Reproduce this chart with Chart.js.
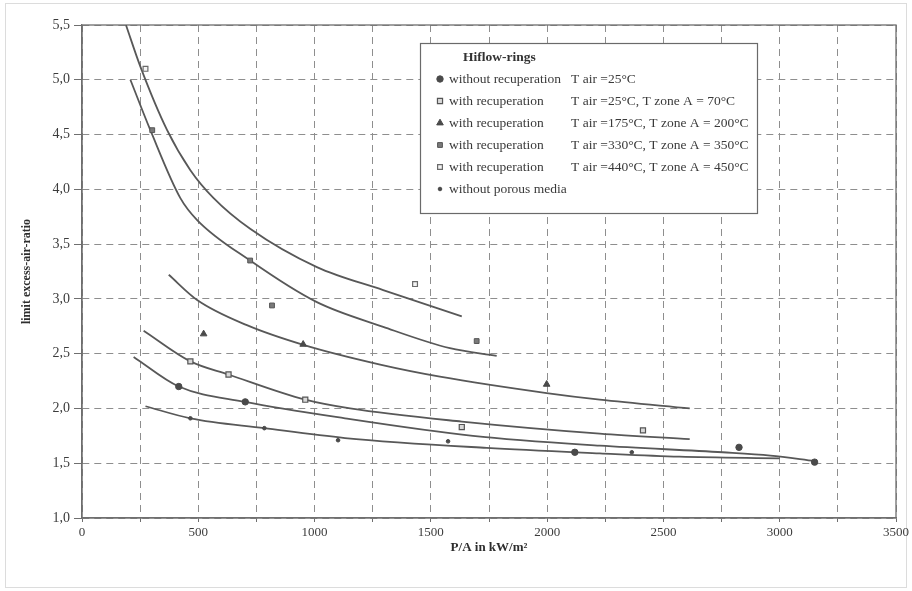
<!DOCTYPE html>
<html>
<head>
<meta charset="utf-8">
<script src="https://cdn.jsdelivr.net/npm/chart.js@4/dist/chart.umd.min.js"></script>
<style>
html,body{margin:0;padding:0;background:#ffffff;}
#wrap{position:relative;width:912px;height:591px;}
canvas{display:block;}
</style>
</head>
<body>
<div id="wrap"><canvas id="c" width="912" height="591"></canvas></div>
<script>
// ---------- data ----------
const legendTitle = 'Hiflow-rings';
const seriesLabels = [
  'without recuperation   T air =25°C',
  'with recuperation   T air =25°C, T zone A = 70°C',
  'with recuperation   T air =175°C, T zone A = 200°C',
  'with recuperation   T air =330°C, T zone A = 350°C',
  'with recuperation   T air =440°C, T zone A = 450°C',
  'without porous media'
];
const xTickLabels = ['0','500','1000','1500','2000','2500','3000','3500'];
const yTickLabels = ['1,0','1,5','2,0','2,5','3,0','3,5','4,0','4,5','5,0','5,5'];

// measured points (markers)
const noRecupX   = [416, 702, 2119, 2825, 3150];
const noRecupY   = [2.20, 2.06, 1.60, 1.645, 1.51];
const recup25X   = [466, 630, 960, 1633, 2412];
const recup25Y   = [2.43, 2.31, 2.08, 1.83, 1.80];
const recup175X  = [523, 951, 1998];
const recup175Y  = [2.68, 2.585, 2.22];
const recup330X  = [302, 723, 817, 1697];
const recup330Y  = [4.54, 3.35, 2.94, 2.615];
const recup440X  = [273, 1432];
const recup440Y  = [5.10, 3.135];
const noPorousX  = [466, 784, 1101, 1574, 2364];
const noPorousY  = [1.91, 1.82, 1.71, 1.70, 1.60];

// fitted curves (traced)
const fitNoRecupX  = [222, 416, 702, 1131, 1681, 2226, 2755, 2960, 3150];
const fitNoRecupY  = [2.47, 2.20, 2.06, 1.91, 1.75, 1.66, 1.60, 1.57, 1.52];
const fitRecup25X  = [265, 466, 630, 960, 1153, 1633, 2226, 2613];
const fitRecup25Y  = [2.71, 2.43, 2.31, 2.08, 2.00, 1.88, 1.77, 1.72];
const fitRecup175X = [373, 495, 709, 952, 1282, 1539, 1998, 2226, 2613];
const fitRecup175Y = [3.22, 2.99, 2.76, 2.58, 2.40, 2.29, 2.14, 2.08, 2.00];
const fitRecup330X = [208, 294, 423, 495, 723, 1010, 1295, 1582, 1783];
const fitRecup330Y = [5.00, 4.54, 3.92, 3.72, 3.35, 2.97, 2.745, 2.55, 2.48];
const fitRecup440X = [189, 251, 366, 466, 566, 723, 1010, 1295, 1633];
const fitRecup440Y = [5.50, 5.12, 4.54, 4.175, 3.92, 3.64, 3.29, 3.08, 2.84];
const fitNoPorousX = [273, 466, 784, 1131, 1740, 2226, 2569, 3000];
const fitNoPorousY = [2.02, 1.91, 1.82, 1.73, 1.64, 1.59, 1.56, 1.545];

// ---------- build ----------
const pts = (xs, ys) => xs.map((x, i) => ({x: x, y: ys[i]}));
const markerStyles = [
  {pointStyle:'circle',   radius:3.2, bg:'#4a4a4a', bc:'#4a4a4a', bw:1},
  {pointStyle:'rect',     radius:3.6, bg:'#d9d9d9', bc:'#555555', bw:1.2},
  {pointStyle:'triangle', radius:3.8, bg:'#4a4a4a', bc:'#4a4a4a', bw:1},
  {pointStyle:'rect',     radius:3.4, bg:'#7a7a7a', bc:'#555555', bw:1},
  {pointStyle:'rect',     radius:3.4, bg:'#f4f4f4', bc:'#6a6a6a', bw:1.2},
  {pointStyle:'circle',   radius:1.8, bg:'#4a4a4a', bc:'#4a4a4a', bw:1}
];
const markerSets = [
  pts(noRecupX, noRecupY), pts(recup25X, recup25Y), pts(recup175X, recup175Y),
  pts(recup330X, recup330Y), pts(recup440X, recup440Y), pts(noPorousX, noPorousY)
];
const curveSets = [
  pts(fitNoRecupX, fitNoRecupY), pts(fitRecup25X, fitRecup25Y), pts(fitRecup175X, fitRecup175Y),
  pts(fitRecup330X, fitRecup330Y), pts(fitRecup440X, fitRecup440Y), pts(fitNoPorousX, fitNoPorousY)
];

const datasets = [];
markerSets.forEach((d, i) => {
  const m = markerStyles[i];
  datasets.push({
    label: seriesLabels[i], data: d, showLine: false,
    pointStyle: m.pointStyle, pointRadius: m.radius, pointBackgroundColor: m.bg,
    pointBorderColor: m.bc, pointBorderWidth: m.bw, pointHoverRadius: m.radius
  });
});
curveSets.forEach((d, i) => {
  datasets.push({
    label: '', data: d, showLine: true, pointRadius: 0, pointHoverRadius: 0,
    borderColor: '#585858', borderWidth: 1.8, cubicInterpolationMode: 'monotone', fill: false
  });
});

const SERIF = '"Liberation Serif", "DejaVu Serif", serif';

const framePlugin = {
  id: 'frame',
  beforeDraw(chart) {
    const ctx = chart.ctx;
    ctx.save();
    ctx.fillStyle = '#ffffff';
    ctx.fillRect(0, 0, chart.width, chart.height);
    ctx.strokeStyle = '#dcdcdc';
    ctx.lineWidth = 1;
    ctx.strokeRect(5.5, 3.5, chart.width - 11, chart.height - 7);
    ctx.restore();
  },
  beforeDatasetsDraw(chart) {
    const a = chart.chartArea, ctx = chart.ctx;
    ctx.save();
    ctx.strokeStyle = '#6f6f6f';
    ctx.lineWidth = 1.3;
    ctx.strokeRect(a.left, a.top, a.right - a.left, a.bottom - a.top);
    ctx.restore();
  }
};

function drawMarker(ctx, style, x, y) {
  ctx.save();
  ctx.fillStyle = style.bg; ctx.strokeStyle = style.bc; ctx.lineWidth = style.bw;
  if (Chart.helpers && Chart.helpers.drawPoint) {
    Chart.helpers.drawPoint(ctx, {pointStyle: style.pointStyle, radius: style.radius, borderWidth: style.bw, rotation: 0}, x, y);
  } else {
    ctx.beginPath(); ctx.arc(x, y, style.radius, 0, Math.PI * 2); ctx.fill(); ctx.stroke();
  }
  ctx.restore();
}

const legendPlugin = {
  id: 'boxLegend',
  afterDraw(chart) {
    const ctx = chart.ctx;
    const bx = 420.5, by = 43.5, bw = 337, bh = 170;
    ctx.save();
    ctx.fillStyle = '#ffffff';
    ctx.fillRect(bx, by, bw, bh);
    ctx.strokeStyle = '#6a6a6a'; ctx.lineWidth = 1.2;
    ctx.strokeRect(bx, by, bw, bh);
    ctx.textBaseline = 'middle'; ctx.textAlign = 'left';
    ctx.fillStyle = '#333333';
    ctx.font = 'bold 13.5px ' + SERIF;
    ctx.fillText(legendTitle, 463, 58);
    const rowY0 = 79, rowStep = 22;
    const colA = 449;
    ctx.font = '13.5px ' + SERIF;
    const colB = colA + ctx.measureText('without recuperation').width + 10;
    seriesLabels.forEach((lab, i) => {
      const y = rowY0 + i * rowStep;
      drawMarker(ctx, markerStyles[i], 440, y);
      const parts = lab.split(/\s{2,}/);
      ctx.fillStyle = '#3a3a3a';
      ctx.fillText(parts[0], colA, y);
      if (parts[1]) ctx.fillText(parts[1], colB, y);
    });
    ctx.restore();
  }
};

new Chart(document.getElementById('c'), {
  type: 'scatter',
  data: { datasets: datasets },
  options: {
    responsive: false,
    animation: false,
    devicePixelRatio: 1,
    layout: { padding: { top: 25, right: 16, bottom: 0, left: 0 } },
    plugins: { legend: { display: false }, tooltip: { enabled: false } },
    scales: {
      x: {
        type: 'linear', min: 0, max: 3500,
        afterFit(s) { s.height = 73; },
        ticks: {
          stepSize: 250, autoSkip: false, maxRotation: 0, padding: 3,
          color: '#3c3c3c', font: { family: SERIF, size: 13 },
          callback: (v) => { const i = xTickLabels.indexOf(String(v)); return i >= 0 ? xTickLabels[i] : ''; }
        },
        grid: { color: '#8e8e8e', lineWidth: 1, tickLength: 4, tickColor: '#6f6f6f' },
        border: { display: true, color: '#6f6f6f', width: 1.3, dash: [7, 5] },
        title: { display: true, text: 'P/A in kW/m²', color: '#2e2e2e',
          font: { family: SERIF, size: 13, weight: 'bold' }, padding: { top: 0, bottom: 36 } }
      },
      y: {
        type: 'linear', min: 1, max: 5.5,
        afterFit(s) { s.width = 82; },
        ticks: {
          stepSize: 0.5, padding: 4, color: '#3c3c3c', font: { family: SERIF, size: 14 },
          callback: (v) => { const i = Math.round((v - 1) / 0.5); return yTickLabels[i] !== undefined ? yTickLabels[i] : ''; }
        },
        grid: { color: '#8e8e8e', lineWidth: 1, tickLength: 8, tickColor: '#6f6f6f' },
        border: { display: true, color: '#6f6f6f', width: 1.3, dash: [7, 5] },
        title: { display: true, text: 'limit excess-air-ratio', color: '#2e2e2e',
          font: { family: SERIF, size: 12, weight: 'bold' }, padding: { top: 20, bottom: 0 } }
      }
    }
  },
  plugins: [framePlugin, legendPlugin]
});
</script>
</body>
</html>
